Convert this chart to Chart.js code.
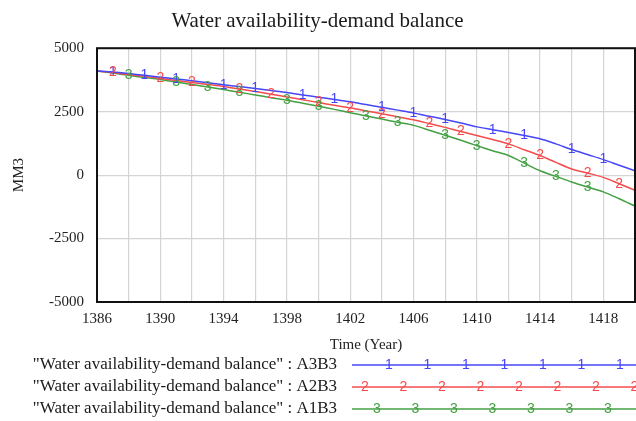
<!DOCTYPE html>
<html>
<head>
<meta charset="utf-8">
<script src="https://cdn.jsdelivr.net/npm/chart.js@4"></script>
<style>
  html, body { margin: 0; padding: 0; background: #fff; }
  #wrap { width: 636px; height: 421px; }
</style>
</head>
<body>
<div id="wrap"><canvas id="mycanvas" width="636" height="421"></canvas></div>
<script>
var years = [];
for (var yr = 1386; yr <= 1420; yr++) years.push(yr);

var seriesNames = [
	'"Water availability-demand balance" : A3B3',
	'"Water availability-demand balance" : A2B3',
	'"Water availability-demand balance" : A1B3'
];

var a3b3 = [4100, 4060, 4000, 3930, 3860, 3790, 3720, 3640, 3560, 3490,
	3410, 3330, 3250, 3160, 3070, 2980, 2890, 2780, 2670, 2560,
	2450, 2320, 2190, 2050, 1900, 1790, 1680, 1560, 1430, 1230,
	1010, 810, 610, 390, 170];

var a2b3 = [4100, 4040, 3960, 3890, 3810, 3730, 3650, 3570, 3490, 3390,
	3290, 3190, 3080, 2970, 2860, 2750, 2650, 2530, 2420, 2300,
	2180, 2030, 1880, 1720, 1560, 1400, 1230, 1000, 770, 500,
	240, 80, -90, -340, -600];

var a1b3 = [4100, 4020, 3930, 3850, 3770, 3670, 3570, 3470, 3370, 3260,
	3160, 3050, 2950, 2830, 2710, 2590, 2460, 2330, 2210, 2080,
	1960, 1770, 1570, 1370, 1160, 960, 770, 470, 170, -50,
	-270, -470, -660, -930, -1220];

// years where the series number is printed on the line
var marksA3B3 = [1387, 1389, 1391, 1394, 1396, 1399, 1401, 1404, 1406, 1408, 1411, 1413, 1416, 1418];
var marksA2B3 = [1387, 1390, 1392, 1395, 1397, 1400, 1402, 1404, 1407, 1409, 1412, 1414, 1417, 1419];
var marksA1B3 = [1388, 1391, 1393, 1395, 1398, 1400, 1403, 1405, 1408, 1410, 1413, 1415, 1417];

var yTicks = [-5000, -2500, 0, 2500, 5000];

var colors = ['#4646f7', '#f44c4c', '#43a043'];
var serif = "'Liberation Serif', 'Times New Roman', serif";
var markFont = "14px 'Liberation Sans', Arial, sans-serif";

function pts(vals) {
	return vals.map(function(v, i) { return { x: years[i], y: v }; });
}

var allMarks = [marksA3B3, marksA2B3, marksA1B3];

var markerPlugin = {
	id: 'markers',
	afterDatasetsDraw: function(chart) {
		var ctx = chart.ctx;
		var xs = chart.scales.x, ys = chart.scales.y;
		ctx.save();
		ctx.font = markFont;
		ctx.textAlign = 'center';
		ctx.textBaseline = 'middle';
		chart.data.datasets.forEach(function(ds, i) {
			allMarks[i].forEach(function(yr) {
				var p = ds.data[yr - years[0]];
				ctx.fillStyle = colors[i];
				ctx.fillText(String(i + 1), xs.getPixelForValue(p.x), ys.getPixelForValue(p.y));
			});
		});
		// frame round the plot
		var a = chart.chartArea;
		ctx.strokeStyle = '#111';
		ctx.lineWidth = 2;
		ctx.strokeRect(a.left, a.top, a.right - a.left, a.bottom - a.top);
		ctx.restore();
	}
};

var legendPlugin = {
	id: 'vlegend',
	afterDraw: function(chart) {
		var ctx = chart.ctx;
		ctx.save();
		chart.data.datasets.forEach(function(ds, i) {
			var y = 365 + i * 22;
			ctx.font = '17px ' + serif;
			ctx.fillStyle = '#1a1a1a';
			ctx.textAlign = 'right';
			ctx.textBaseline = 'middle';
			ctx.fillText(ds.label, 337, y);
			ctx.strokeStyle = colors[i];
			ctx.lineWidth = 1.5;
			ctx.beginPath();
			ctx.moveTo(352, y);
			ctx.lineTo(636, y);
			ctx.stroke();
			ctx.font = markFont;
			ctx.textAlign = 'center';
			ctx.fillStyle = colors[i];
			var start = [389, 365, 377][i];
			for (var x = start; x < 640; x += 38.5) {
				ctx.fillText(String(i + 1), x, y);
			}
		});
		ctx.restore();
	}
};

var chartdata = {
	datasets: [
		{ label: seriesNames[0], data: pts(a3b3), borderColor: colors[0] },
		{ label: seriesNames[1], data: pts(a2b3), borderColor: colors[1] },
		{ label: seriesNames[2], data: pts(a1b3), borderColor: colors[2] }
	]
};
chartdata.datasets.forEach(function(ds) {
	ds.borderWidth = 1.5;
	ds.pointRadius = 0;
	ds.tension = 0.3;
	ds.fill = false;
});

var ctx = document.getElementById('mycanvas');

var lineGraph = new Chart(ctx, {
	type: 'line',
	data: chartdata,
	options: {
		responsive: false,
		animation: false,
		layout: { padding: { left: 0, right: 1, top: 0, bottom: 67 } },
		plugins: {
			legend: { display: false },
			tooltip: { enabled: false },
			title: {
				display: true,
				text: 'Water availability-demand balance',
				color: '#1a1a1a',
				font: { family: serif, size: 21, weight: 'normal' },
				padding: { top: 9, bottom: 14 }
			}
		},
		scales: {
			x: {
				type: 'linear',
				min: 1386,
				max: 1420,
				afterFit: function(s) { s.height = 52; s.paddingLeft = 0; s.paddingRight = 0; },
				grid: { color: '#d4d4d4', lineWidth: 1.2, drawTicks: false },
				border: { display: false },
				ticks: {
					stepSize: 2,
					autoSkip: false,
					maxRotation: 0,
					padding: 8,
					color: '#222',
					font: { family: serif, size: 15 },
					callback: function(v) { return (v - 1386) % 4 === 0 ? String(v) : ''; }
				},
				title: {
					display: true,
					text: 'Time (Year)',
					color: '#222',
					font: { family: serif, size: 15 },
					padding: { top: 3, bottom: 0 }
				}
			},
			y: {
				min: -5000,
				max: 5000,
				afterFit: function(s) { s.width = 97; },
				afterBuildTicks: function(s) { s.ticks = yTicks.map(function(v) { return { value: v }; }); },
				grid: { color: '#d4d4d4', lineWidth: 1.2, drawTicks: false },
				border: { display: false },
				ticks: {
					padding: 13,
					color: '#222',
					font: { family: serif, size: 15 },
					callback: function(v) { return String(v); }
				},
				title: {
					display: true,
					text: 'MM3',
					color: '#222',
					font: { family: serif, size: 15 },
					padding: { top: 10, bottom: 0 }
				}
			}
		}
	},
	plugins: [markerPlugin, legendPlugin]
});
</script>
</body>
</html>
